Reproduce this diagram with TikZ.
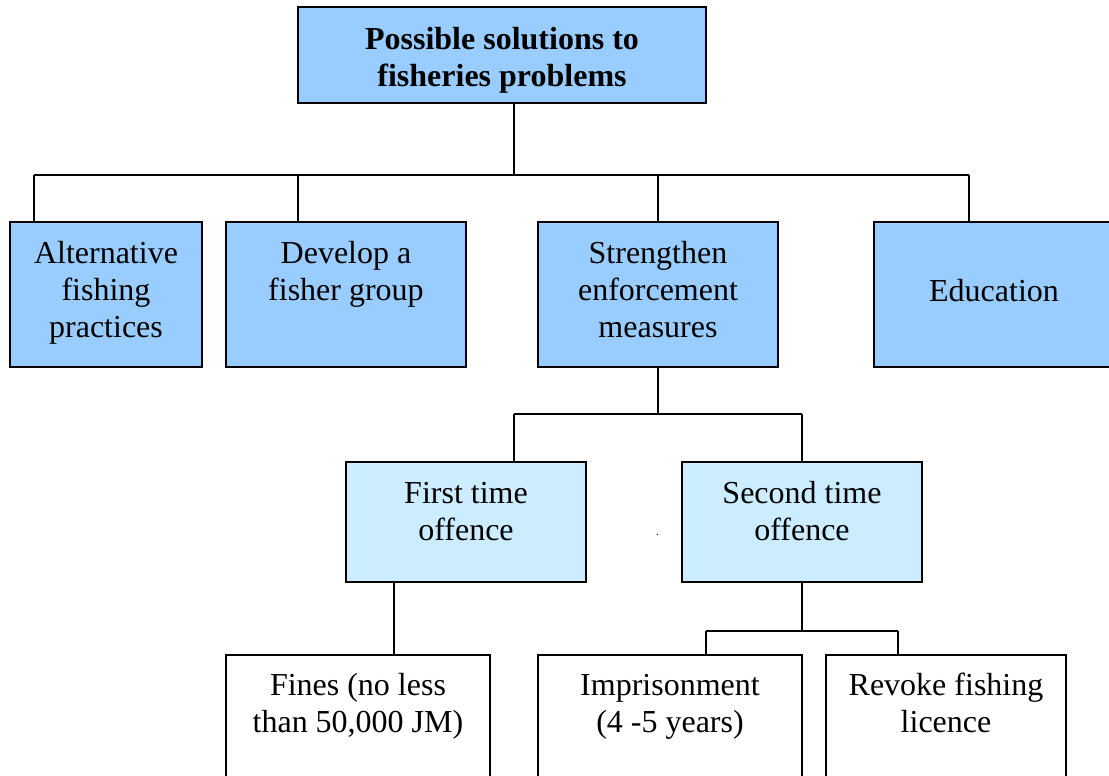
\documentclass[tikz,border=0pt]{standalone}
\usepackage{fontspec}
\setmainfont{Liberation Serif}
\usetikzlibrary{calc}

\definecolor{mainblue}{HTML}{99CCFF}
\definecolor{paleblue}{HTML}{CCECFF}

% box given by its corners (x1,y1) and (x2,y2), in pixel units
\newcommand{\mkbox}[6]{%
  \node[#2, minimum width={(#5-#3)*0.75pt}, minimum height={(#6-#4)*0.75pt}]
    (#1) at ({(#3+#5)/2},{(#4+#6)/2}) {};}

\begin{document}
\begin{tikzpicture}[x=0.75pt, y=-0.75pt,
    basebox/.style={rectangle, draw=black, line width=1.6pt, inner sep=0pt},
    toplevel/.style={basebox, fill=mainblue},
    midlevel/.style={basebox, fill=paleblue},
    leaflevel/.style={basebox, fill=white},
    label/.style={anchor=north, align=center, inner sep=0pt,
      font=\fontsize{24}{27.75}\selectfont},
    boldlabel/.style={label, font=\fontsize{24}{27.75}\selectfont\bfseries},
    link/.style={draw=black, line width=1.3pt}]

  \useasboundingbox (0,0) rectangle (1109,775);

  % boxes
  \mkbox{root}{toplevel}{298}{7}{706}{103}
  \mkbox{alt}{toplevel}{10}{222}{202}{367}
  \mkbox{grp}{toplevel}{226}{222}{466}{367}
  \mkbox{enf}{toplevel}{538}{222}{778}{367}
  \mkbox{edu}{toplevel}{874}{222}{1112}{367}
  \mkbox{first}{midlevel}{346}{462}{586}{582}
  \mkbox{second}{midlevel}{682}{462}{922}{582}
  \mkbox{fines}{leaflevel}{226}{655}{490}{778}
  \mkbox{prison}{leaflevel}{538}{655}{802}{778}
  \mkbox{revoke}{leaflevel}{826}{655}{1066}{778}

  % labels
  \node[boldlabel] (troot) at ($(root.north)+(0,17)$) {\strut Possible solutions to\\fisheries problems};
  \node[label] (talt) at ($(alt.north)+(0,16.5)$) {\strut Alternative\\fishing\\practices};
  \node[label] (tgrp) at ($(grp.north)+(0,16.5)$) {\strut Develop a\\fisher group};
  \node[label] (tenf) at ($(enf.north)+(0,16.5)$) {\strut Strengthen\\enforcement\\measures};
  \node[label] (tedu) at ($(edu.north)+(1,54)$) {\strut Education};
  \node[label] (tfirst) at ($(first.north)+(0,16.5)$) {\strut First time\\offence};
  \node[label] (tsecond) at ($(second.north)+(0,16.5)$) {\strut Second time\\offence};
  \node[label] (tfines) at ($(fines.north)+(0,15)$) {\strut Fines (no less\\than 50,000 JM)};
  \node[label] (tprison) at ($(prison.north)+(0,15)$) {\strut Imprisonment\\(4 -5 years)};
  \node[label] (trevoke) at ($(revoke.north)+(0,15)$) {\strut Revoke fishing\\licence};
  \node[inner sep=0pt, font=\fontsize{9}{10}\selectfont] (dot) at (657.5,535) {.};

  % junction points of the tree
  \coordinate (j0) at (514,175);
  \coordinate (d1) at (34,175);
  \coordinate (d2) at (298,175);
  \coordinate (d3) at (658,175);
  \coordinate (d4) at (969,175);
  \coordinate (j1) at (658,414);
  \coordinate (e1) at (514,414);
  \coordinate (e2) at (802,414);
  \coordinate (f1) at (394,600);
  \coordinate (j2) at (802,631);
  \coordinate (g1) at (706,631);
  \coordinate (g2) at (898,631);

  % connectors
  \path[link] (root.south -| j0) -- (j0);
  \path[link] (d1) -- (d4);
  \path[link] (d1) -- (d1 |- alt.north);
  \path[link] (d2) -- (d2 |- grp.north);
  \path[link] (d3) -- (d3 |- enf.north);
  \path[link] (d4) -- (d4 |- edu.north);

  \path[link] (enf.south) -- (j1);
  \path[link] (e1) -- (e2);
  \path[link] (e1) -- (e1 |- first.north);
  \path[link] (e2) -- (e2 |- second.north);

  \path[link] (first.south -| f1) -- (f1 |- fines.north);
  \path[link] (second.south) -- (j2);
  \path[link] (g1) -- (g2);
  \path[link] (g1) -- (g1 |- prison.north);
  \path[link] (g2) -- (g2 |- revoke.north);
\end{tikzpicture}
\end{document}
